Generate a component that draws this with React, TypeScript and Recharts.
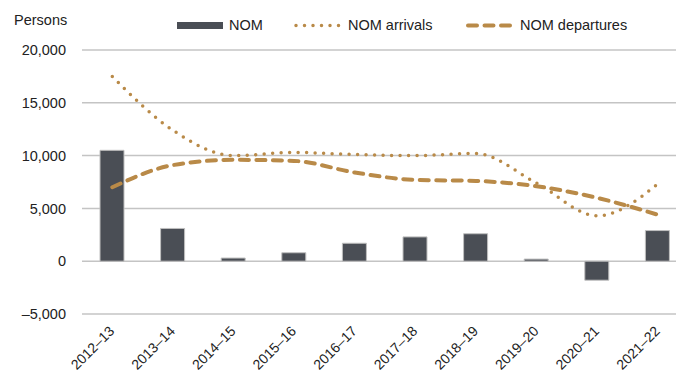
import { Bar, CartesianGrid, ComposedChart, Line, XAxis, YAxis } from 'recharts';

const years = ['2012–13', '2013–14', '2014–15', '2015–16', '2016–17', '2017–18', '2018–19', '2019–20', '2020–21', '2021–22'];
const nom = [10500, 3100, 300, 800, 1700, 2300, 2600, 200, -1800, 2900];
const arrivals = [17500, 12400, 10000, 10300, 10100, 10000, 10200, 7400, 4300, 7300];
const departures = [7000, 9100, 9600, 9500, 8400, 7700, 7600, 7100, 6000, 4400];
const yTicks = [-5000, 0, 5000, 10000, 15000, 20000];

const data = years.map((name, i) => ({
    name,
    NOM: nom[i],
    "NOM arrivals": arrivals[i],
    "NOM departures": departures[i],
}));

const GOLD = '#b98a48';
const BAR = '#4a4e55';
const FONT = '"Liberation Sans", Arial, sans-serif';

const fmt = (v: number) => (v < 0 ? '\u2013' : '') + Math.abs(v).toLocaleString('en-US');

const YearTick = ({ x, y, payload }: any) => (
    <text
        x={x + 3}
        y={y + 10}
        transform={`rotate(-45 ${x + 3} ${y + 10})`}
        textAnchor="end"
        fontSize={14}
        fill="#222"
        fontFamily={FONT}
    >
        {payload.value}
    </text>
);

// legend drawn by hand so the swatches match the series strokes
const LegendRow = () => (
    <svg width={676} height={40} style={{ position: 'absolute', left: 0, top: 0 }}>
        <g fontFamily={FONT} fontSize={14.5} fill="#222">
            <rect x={177} y={22} width={46} height={7} fill={BAR} />
            <text x={229} y={30}>NOM</text>
            <line x1={296} y1={25.5} x2={340} y2={25.5} stroke={GOLD} strokeWidth={3.5} strokeLinecap="round" strokeDasharray="0 8.5" />
            <text x={348} y={30}>NOM arrivals</text>
            <line x1={468} y1={25.5} x2={510} y2={25.5} stroke={GOLD} strokeWidth={4} strokeLinecap="round" strokeDasharray="9 7.5" />
            <text x={520} y={30}>NOM departures</text>
        </g>
    </svg>
);

const App = () => {
    return (
        <div style={{ position: 'absolute', left: 0, top: 0, width: 676, height: 371, overflow: 'hidden', background: '#fff' }}>
            <div style={{ position: 'absolute', left: 14, top: 12, fontFamily: FONT, fontSize: 14.5, color: '#222' }}>
                Persons
            </div>
            <LegendRow />
            <div style={{ position: 'absolute', left: 0, top: 0 }}>
                <ComposedChart
                    width={690}
                    height={371}
                    data={data}
                    margin={{ top: 50, right: 2, left: 0, bottom: 0 }}
                >
                    <CartesianGrid vertical={false} stroke="#c4c4c4" strokeWidth={1.5} />
                    <XAxis
                        dataKey="name"
                        axisLine={false}
                        tickLine={false}
                        height={57}
                        interval={0}
                        tick={<YearTick />}
                    />
                    <YAxis
                        domain={[-5000, 20000]}
                        ticks={yTicks}
                        axisLine={false}
                        tickLine={false}
                        width={82}
                        tickMargin={10}
                        tickFormatter={fmt}
                        tick={{ fontSize: 14.5, fill: '#222', fontFamily: FONT }}
                    />
                    <Bar dataKey="NOM" fill={BAR} stroke="#bfbfbf" strokeWidth={1} barSize={24} isAnimationActive={false} />
                    <Line
                        type="monotone"
                        dataKey="NOM arrivals"
                        stroke={GOLD}
                        strokeWidth={3.5}
                        strokeLinecap="round"
                        strokeDasharray="0 8.5"
                        dot={false}
                        isAnimationActive={false}
                    />
                    <Line
                        type="monotone"
                        dataKey="NOM departures"
                        stroke={GOLD}
                        strokeWidth={4}
                        strokeLinecap="round"
                        strokeDasharray="9 7.5"
                        dot={false}
                        isAnimationActive={false}
                    />
                </ComposedChart>
            </div>
        </div>
    );
}

export default App;
